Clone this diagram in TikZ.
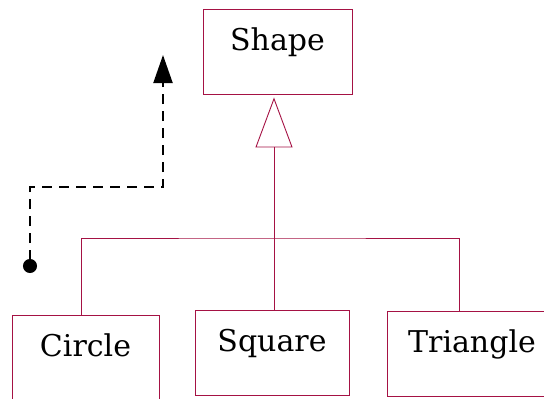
\documentclass[tikz,border=0pt]{standalone}
\usepackage{fontspec}
\setmainfont{DejaVu Serif}
\usepackage{tikz}
\usetikzlibrary{arrows.meta, positioning, calc}
\definecolor{umlred}{RGB}{165,18,68}
\tikzstyle{umlline} = [draw=umlred, line width=0.9pt]
\tikzstyle{flow} = [line width=2pt, dash pattern=on 10pt off 7pt, {Circle[length=14pt]}-{Triangle[length=28pt, width=19pt]}]

\begin{document}
\begin{tikzpicture}[
    x=1pt, y=-1pt,
    classbox/.style={rectangle, draw=umlred, line width=0.9pt, fill=white, inner sep=0pt, text height=41pt, text depth=44pt, font=\fontsize{30}{36}\selectfont},
    inherit/.style={umlline, -{Triangle[open, length=50pt, width=37pt]}, shorten >=3pt}
  ]
    \useasboundingbox (0,0) rectangle (544,399);

    % Base class
    \node[classbox, minimum width=149pt] (shape) at (277.5,51.5) {Shape};

    % Subclasses
    \node[classbox, minimum width=147pt] (circle) at (85.5,357.5) {Circle};
    \node[classbox, minimum width=154pt] (square) at (272,352.5) {Square};
    \node[classbox, minimum width=170pt] (triangle) at (472,353.5) {Triangle};

    % Generalization tree
    \coordinate (bus) at (274,238);
    \draw[umlline] ([xshift=-3.8pt]circle.north) |- (bus) -| ([xshift=-13pt]triangle.north);
    \draw[umlline] (bus) -- (bus |- square.north);
    \draw[inherit] (bus) -- (bus |- shape.south);

    % Dashed flow
    \coordinate (src) at (30,273);
    \coordinate (dst) at (163,55);
    \draw[flow] (src) -- ++(0,-86) -| (dst);
  \end{tikzpicture}
\end{document}
